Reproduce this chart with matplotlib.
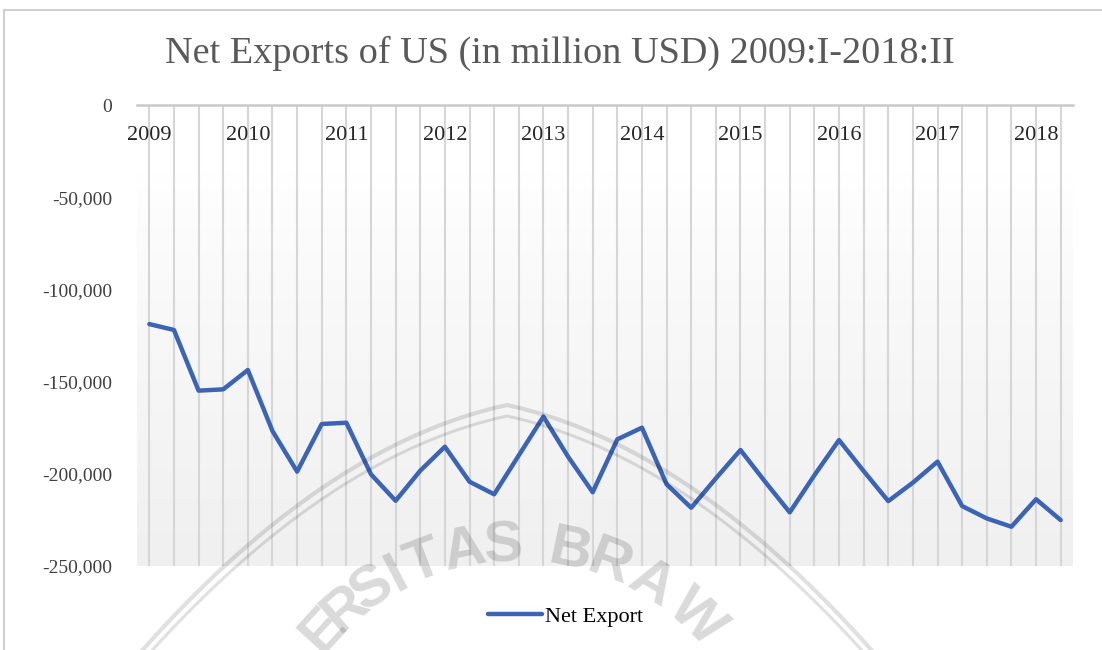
import matplotlib
matplotlib.use('Agg')
import matplotlib.pyplot as plt
import numpy as np
from matplotlib.ticker import FuncFormatter
from matplotlib.patches import Rectangle
from matplotlib.lines import Line2D

# ---- data ----
quarters = [f"{y}:{q}" for y in range(2009, 2019) for q in ["I", "II", "III", "IV"]][:38]
net_export = [-118800, -122000, -154900, -154200, -143700, -176800, -198800, -173000,
              -172300, -200300, -214600, -198300, -185300, -204300, -211100, -190000,
              -169000, -190700, -210000, -181300, -175000, -205700, -218400, -202500,
              -187100, -204300, -220900, -200800, -181700, -198500, -214800, -204800,
              -193400, -217500, -224200, -228700, -213800, -225100]
y_ticks = [0, -50000, -100000, -150000, -200000, -250000]

W, H = 1102, 650
fig = plt.figure(figsize=(W / 100, H / 100), dpi=100)
fig.patch.set_facecolor('white')

serif = ['Liberation Serif', 'DejaVu Serif']

# outer border
fig.patches.append(Rectangle((4 / W, -0.05), 1.2, 1 - 10 / H + 0.05, transform=fig.transFigure,
                             fill=False, edgecolor='#d0d0d0', linewidth=1.5))

ax = fig.add_axes([137 / W, 1 - 566 / H, (1073 - 137) / W, (566 - 105) / H])
x = np.arange(len(quarters))
ax.set_xlim(-0.5, len(quarters) - 0.5)

# gradient background
grad = np.linspace(0, 1, 256).reshape(-1, 1)
grad = np.clip((grad - 0.15) / 0.85, 0, 1) ** 0.8
cmap = matplotlib.colors.LinearSegmentedColormap.from_list('g', ['#ffffff', '#f0f0f0'])
ax.imshow(grad, aspect='auto', cmap=cmap, extent=[-0.5, len(quarters) - 0.5, 0, -250000],
          origin='lower', zorder=0, vmin=0, vmax=1)
ax.set_ylim(-250000, 0)

ax.plot(x, net_export, color='#3C64B4', linewidth=3.2, solid_capstyle='round',
        solid_joinstyle='round', zorder=3)

# ticks
labels = [q.split(':')[0] if q.endswith(':I') else '' for q in quarters]
ax.set_xticks(x)
ax.set_xticklabels(labels)
ax.xaxis.tick_top()
ax.tick_params(axis='x', length=0, pad=-28.5, labelsize=16, labelcolor='#262626')
for t in ax.get_xticklabels():
    t.set_fontfamily(serif)
ax.grid(axis='x', color='#d6d6d6', linewidth=1.5, zorder=1)
ax.set_axisbelow(True)

ax.set_yticks(y_ticks)
ax.yaxis.set_major_formatter(FuncFormatter(lambda v, p: f"{int(v):,}"))
ax.tick_params(axis='y', length=0, pad=18, labelsize=14, labelcolor='#404040')
for t in ax.get_yticklabels():
    t.set_fontfamily(serif)

for s in ['left', 'right', 'bottom']:
    ax.spines[s].set_visible(False)
ax.spines['top'].set_color('#c8c8c8')
ax.spines['top'].set_linewidth(1.8)

fig.text(0.508, 1 - 53 / H, "Net Exports of US (in million USD) 2009:I-2018:II",
         ha='center', va='center', fontsize=27.5, color='#595959', family=serif)

handle = Line2D([0], [0], color='#3C64B4', linewidth=3.2, solid_capstyle='round')
fig.legend([handle], ['Net Export'], loc='center', bbox_to_anchor=(0.513, 1 - 617 / H),
           frameon=False, handlelength=2.45, handletextpad=0.1,
           prop={'family': serif, 'size': 16})

# ---- faint document watermark (university logo) ----
def to_fig(px, py):
    return np.asarray(px) / W, 1 - np.asarray(py) / H

dx = np.linspace(-420, 380, 300)
for peak, lw in ((405, 3.0), (416, 2.2)):
    yy = peak + 0.2186 * np.abs(dx) + 0.001245 * dx ** 2
    fx, fy = to_fig(507 + dx, yy)
    fig.add_artist(Line2D(fx, fy, color='black', alpha=0.12, linewidth=lw,
                          transform=fig.transFigure, zorder=10))

wm_letters = "ERSITASBRAW"
wm_angles = [-47.5, -40.6, -33.4, -27.2, -20.6, -11.5, -2.8, 11.8, 20.8, 31.1, 43.5]
cx, cy, r = 516, 808, 262
for ch, a in zip(wm_letters, wm_angles):
    th = np.deg2rad(a)
    fx, fy = to_fig(cx + r * np.sin(th), cy - r * np.cos(th))
    fig.text(fx, fy, ch, ha='center', va='center', rotation=-a, fontsize=42,
             fontweight='bold', family='Liberation Sans', color='black', alpha=0.15,
             zorder=10)

fig.savefig('out.png', dpi=100)
